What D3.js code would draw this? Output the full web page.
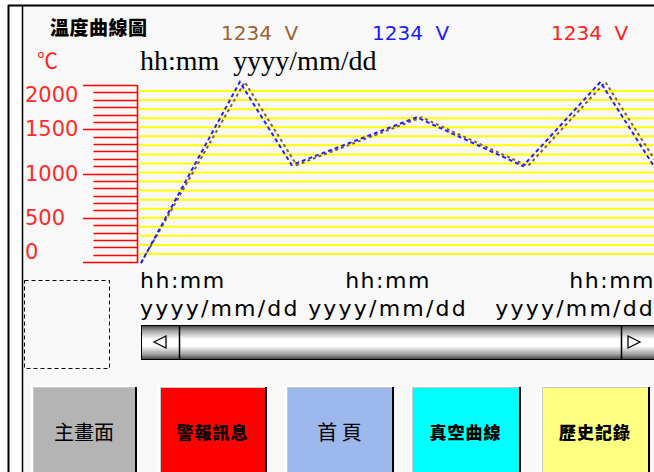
<!DOCTYPE html>
<html><head><meta charset="utf-8">
<script src="https://cdn.jsdelivr.net/npm/d3@7"></script>
<style>body{margin:0;background:#fff}svg{display:block}</style>
</head><body>
<script>
// ---- data ----
const titleText = "溫度曲線圖";
const readouts = ["1234 V", "1234 V", "1234 V"];
const readoutColors = ["#9c6230", "#1a1aff", "#ff2020"];
const rulerLabels = [0, 500, 1000, 1500, 2000];
const rulerMinorCount = 24;
const gridCount = 20;
const blueTimes = [0, 24, 36.6, 67, 92.8, 111.6, 124.5];
const blueValues = [0, 2000, 1083, 1610, 1072, 2000, 1075];
const brownTimes = [0, 25.2, 37.8, 68.2, 94, 112.8, 125.7];
const brownValues = [0, 2000, 1083, 1610, 1072, 2000, 1075];
const xTickTimes = [0, 60, 120];
const xTickTop = ["hh:mm", "hh:mm", "hh:mm"];
const xTickBottom = ["yyyy/mm/dd", "yyyy/mm/dd", "yyyy/mm/dd"];
const buttonLabels = ["主畫面", "警報訊息", "首 頁", "真空曲線", "歷史記錄"];
const buttonColors = ["#b4b4b4", "#ff0000", "#9cb8ec", "#00ffff", "#ffff80"];

const W = 654, H = 472;
const svg = d3.select("body").append("svg").attr("width", W).attr("height", H);
const cjk = "'Noto Sans CJK TC','Noto Sans CJK SC',sans-serif";

// frame
svg.append("rect").attr("x", 23).attr("y", 6).attr("width", W - 23).attr("height", H).attr("fill", "#f8f8f8");
svg.append("line").attr("x1", 8).attr("x2", W).attr("y1", 5.5).attr("y2", 5.5).attr("stroke", "#000").attr("stroke-width", 2);
svg.append("line").attr("x1", 8.5).attr("x2", 8.5).attr("y1", 5).attr("y2", H).attr("stroke", "#000").attr("stroke-width", 2);
svg.append("line").attr("x1", 22.5).attr("x2", 22.5).attr("y1", 5).attr("y2", H).attr("stroke", "#000").attr("stroke-width", 1.5);

// header
svg.append("text").attr("x", 50).attr("y", 35).attr("font-family", cjk).attr("font-weight", 900)
  .attr("font-size", 19).attr("letter-spacing", 0.5).attr("fill", "#000").text(titleText);
const readX = d3.scaleOrdinal().domain([0, 1, 2]).range([221, 372, 551]);
svg.selectAll(".ro").data(readouts).join("text").attr("class", "ro")
  .attr("x", (d, i) => readX(i)).attr("y", 40)
  .attr("font-family", "'DejaVu Sans',sans-serif").attr("font-size", 20)
  .attr("fill", (d, i) => readoutColors[i]).attr("xml:space", "preserve").text(d => d.replace(" ", "  "));
svg.append("text").attr("x", 37).attr("y", 68).attr("font-family", cjk).attr("font-size", 21)
  .attr("fill", "#ff2020").text("℃");
svg.append("text").attr("x", 140).attr("y", 70).attr("font-family", "'Liberation Serif',serif")
  .attr("font-size", 28).attr("fill", "#000").attr("xml:space", "preserve").text("hh:mm  yyyy/mm/dd");

// ruler
const yR = d3.scaleLinear().domain([0, 2000]).range([262, 85]);
const minorVals = d3.range(rulerMinorCount + 1).map(i => i * 2000 / rulerMinorCount);
const ruler = svg.append("g").attr("stroke", "#ff0000").attr("stroke-width", 1.6);
ruler.selectAll("line.mn").data(minorVals).join("line").attr("class", "mn")
  .attr("x1", d => rulerLabels.includes(Math.round(d)) ? 83 : 93.5).attr("x2", 137.5)
  .attr("y1", d => Math.round(yR(d)) + 0.5).attr("y2", d => Math.round(yR(d)) + 0.5);
ruler.append("line").attr("x1", 137.5).attr("x2", 137.5).attr("y1", yR(2000)).attr("y2", yR(0) + 1);
svg.selectAll(".rl").data(rulerLabels).join("text").attr("class", "rl")
  .attr("x", 25).attr("y", d => Math.max(95, Math.min(252, yR(d))))
  .attr("dominant-baseline", "central").attr("font-family", "'DejaVu Sans',sans-serif")
  .attr("font-size", 21).attr("fill", "#ff2a2a").text(d => d);

// plot
const x = d3.scaleLinear().domain([0, 60]).range([141, 388]);
const y = d3.scaleLinear().domain([0, 2000]).range([263, 82]);
const yG = d3.scaleLinear().domain([0, gridCount]).range([263, 82]);
svg.append("clipPath").attr("id", "cp").append("rect").attr("x", 140).attr("y", 70).attr("width", 520).attr("height", 200);
const plot = svg.append("g").attr("clip-path", "url(#cp)");
plot.selectAll("line.g").data(d3.range(1, gridCount)).join("line").attr("class", "g")
  .attr("x1", 140).attr("x2", W).attr("y1", d => yG(d)).attr("y2", d => yG(d))
  .attr("stroke", "#ffff00").attr("stroke-width", 2);
const line = d3.line().x(d => x(d[0])).y(d => y(d[1]));
plot.append("path").datum(brownTimes.map((t, i) => [t, brownValues[i]])).attr("d", line)
  .attr("fill", "none").attr("stroke", "#8b5a2b").attr("stroke-width", 2).attr("stroke-dasharray", "3,3");
plot.append("path").datum(blueTimes.map((t, i) => [t, blueValues[i]])).attr("d", line)
  .attr("fill", "none").attr("stroke", "#2020ff").attr("stroke-width", 2).attr("stroke-dasharray", "4,3");

// x tick labels
const xl = svg.append("g").attr("font-family", "'DejaVu Sans',sans-serif").attr("font-size", 22).attr("fill", "#000");
function placeLabels(arr, yy, cls, ls) {
  xl.selectAll("text." + cls).data(arr).join("text").attr("class", cls).attr("y", yy)
    .attr("letter-spacing", ls).text(d => d)
    .each(function (d, i) {
      const w = this.getComputedTextLength();
      const cx = x(xTickTimes[i]);
      this.setAttribute("x", Math.max(140, Math.min(W - w + 1, cx - w / 2)));
    });
}
placeLabels(xTickTop, 288, "t1", 1.5);
placeLabels(xTickBottom, 316, "t2", 2.2);

// scrollbar
const defs = svg.append("defs");
const gr = defs.append("linearGradient").attr("id", "sg").attr("x1", 0).attr("x2", 0).attr("y1", 0).attr("y2", 1);
[[0, "#404040"], [0.15, "#a0a0a0"], [0.4, "#ffffff"], [0.6, "#ffffff"], [0.85, "#a0a0a0"], [1, "#404040"]]
  .forEach(s => gr.append("stop").attr("offset", s[0]).attr("stop-color", s[1]));
svg.append("rect").attr("x", 141.5).attr("y", 325.5).attr("width", 520).attr("height", 34)
  .attr("fill", "url(#sg)").attr("stroke", "#000");
svg.append("line").attr("x1", 179.5).attr("x2", 179.5).attr("y1", 325).attr("y2", 360).attr("stroke", "#000").attr("stroke-width", 1.5);
svg.append("line").attr("x1", 621.5).attr("x2", 621.5).attr("y1", 325).attr("y2", 360).attr("stroke", "#000").attr("stroke-width", 1.5);
svg.append("path").attr("d", "M154,342 L166,336 L166,348 Z").attr("fill", "none").attr("stroke", "#000").attr("stroke-width", 1.3);
svg.append("path").attr("d", "M640,342 L628,336 L628,348 Z").attr("fill", "none").attr("stroke", "#000").attr("stroke-width", 1.3);

// dashed box
svg.append("rect").attr("x", 24.5).attr("y", 280.5).attr("width", 85).attr("height", 88)
  .attr("fill", "none").attr("stroke", "#000").attr("stroke-dasharray", "4,3");

// buttons
const bx = [31, 158, 285, 410, 540], bw = [106, 109, 109, 111, 110];
const btn = svg.selectAll("g.btn").data(buttonLabels).join("g").attr("class", "btn")
  .attr("transform", (d, i) => `translate(${bx[i]},385)`);
btn.append("rect").attr("x", 0).attr("y", 0).attr("width", (d, i) => bw[i]).attr("height", 100).attr("fill", "#fff");
btn.append("rect").attr("x", 2).attr("y", 2).attr("width", (d, i) => bw[i] - 2).attr("height", 98).attr("fill", "#000");
btn.append("rect").attr("x", 2).attr("y", 2).attr("width", (d, i) => bw[i] - 4).attr("height", 96).attr("fill", "#c8c8c8");
btn.append("rect").attr("x", 3).attr("y", 3).attr("width", (d, i) => bw[i] - 5).attr("height", 95).attr("fill", (d, i) => buttonColors[i]);
btn.append("text").attr("x", (d, i) => bw[i] / 2).attr("y", 46).attr("text-anchor", "middle")
  .attr("dominant-baseline", "central").attr("font-family", cjk)
  .attr("font-size", (d, i) => (i === 0 || i === 2) ? 20 : 17)
  .attr("font-weight", (d, i) => (i === 0 || i === 2) ? 400 : 900)
  .attr("letter-spacing", (d, i) => (i === 0 || i === 2) ? 0 : 1)
  .attr("xml:space", "preserve")
  .attr("fill", "#000").text(d => d);
</script>
</body></html>
